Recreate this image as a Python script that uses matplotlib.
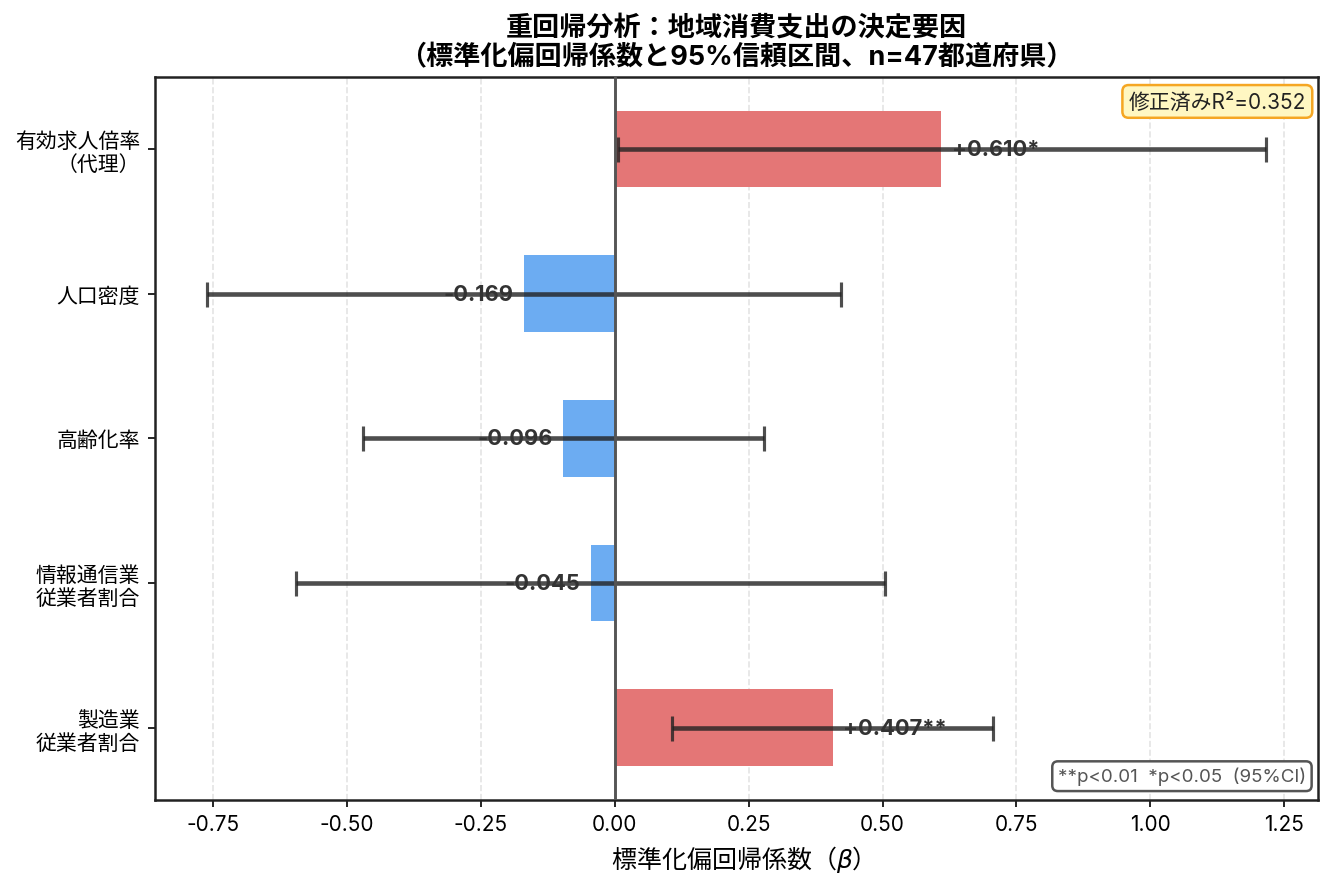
import matplotlib
matplotlib.use("Agg")
import matplotlib.pyplot as plt
import numpy as np

plt.rcParams['font.family'] = ['Inter', 'Noto Sans CJK JP', 'DejaVu Sans']
plt.rcParams['axes.unicode_minus'] = False

categories = ["有効求人倍率\n（代理）", "人口密度", "高齢化率", "情報通信業\n従業者割合", "製造業\n従業者割合"]
betas = [0.610, -0.169, -0.096, -0.045, 0.407]
ci_low = [0.007, -0.760, -0.469, -0.594, 0.108]
ci_high = [1.216, 0.423, 0.278, 0.505, 0.707]
sig = ["*", "", "", "", "**"]
xticks = [-0.75, -0.50, -0.25, 0.00, 0.25, 0.50, 0.75, 1.00, 1.25]

red = '#E47676'
blue = '#6CACF2'

fig = plt.figure(figsize=(8.9, 5.893), dpi=150)
ax = fig.add_axes([0.116, 0.094, 0.871, 0.818])

y = np.arange(len(categories))
colors = [red if b > 0 else blue for b in betas]
ax.barh(y, betas, height=0.53, color=colors, zorder=2)

b = np.array(betas)
xerr = np.vstack([b - np.array(ci_low), np.array(ci_high) - b])
ax.errorbar(betas, y, xerr=xerr, fmt='none', ecolor='#222222', elinewidth=2.2,
            capsize=6, capthick=1.5, alpha=0.8, zorder=3)

ax.axvline(0, color='#555555', linewidth=1.4, zorder=4)

for yi, bv, s in zip(y, betas, sig):
    txt = f"{bv:+.3f}{s}"
    if bv >= 0:
        ax.text(bv + 0.02, yi, txt, ha='left', va='center', fontsize=10.5,
                fontweight='bold', color='#333333', zorder=5)
    else:
        ax.text(bv - 0.02, yi, txt, ha='right', va='center', fontsize=10.5,
                fontweight='bold', color='#333333', zorder=5)

ax.set_yticks(y)
ax.set_yticklabels(categories, fontsize=10)
ax.set_ylim(4.5, -0.5)
ax.set_xlim(-0.858, 1.312)
ax.set_xticks(xticks)
ax.set_xticklabels([f"{t:.2f}" for t in xticks], fontsize=10)
ax.grid(axis='x', linestyle='--', color='#dddddd', alpha=0.8, zorder=0)
ax.set_axisbelow(True)

ax.set_xlabel("標準化偏回帰係数（$\\beta$）", fontsize=12, family='Noto Sans CJK JP')
ax.set_title("重回帰分析：地域消費支出の決定要因\n（標準化偏回帰係数と95%信頼区間、n=47都道府県）",
             fontsize=13, fontweight='bold', pad=6)

ax.text(0.99, 0.98, "修正済みR²=0.352", transform=ax.transAxes, ha='right', va='top',
        fontsize=10, color='#222222',
        bbox=dict(boxstyle='round,pad=0.3', facecolor='#FFF7C2', edgecolor='#F5A623', linewidth=1.2))
ax.text(0.99, 0.02, "**p<0.01  *p<0.05  (95%CI)", transform=ax.transAxes, ha='right', va='bottom',
        fontsize=9, color='#555555',
        bbox=dict(boxstyle='round,pad=0.3', facecolor='white', edgecolor='#555555', linewidth=1.2))

for sp in ax.spines.values():
    sp.set_color('#222222')
    sp.set_linewidth(1.2)

fig.savefig("out.png", dpi=150)
